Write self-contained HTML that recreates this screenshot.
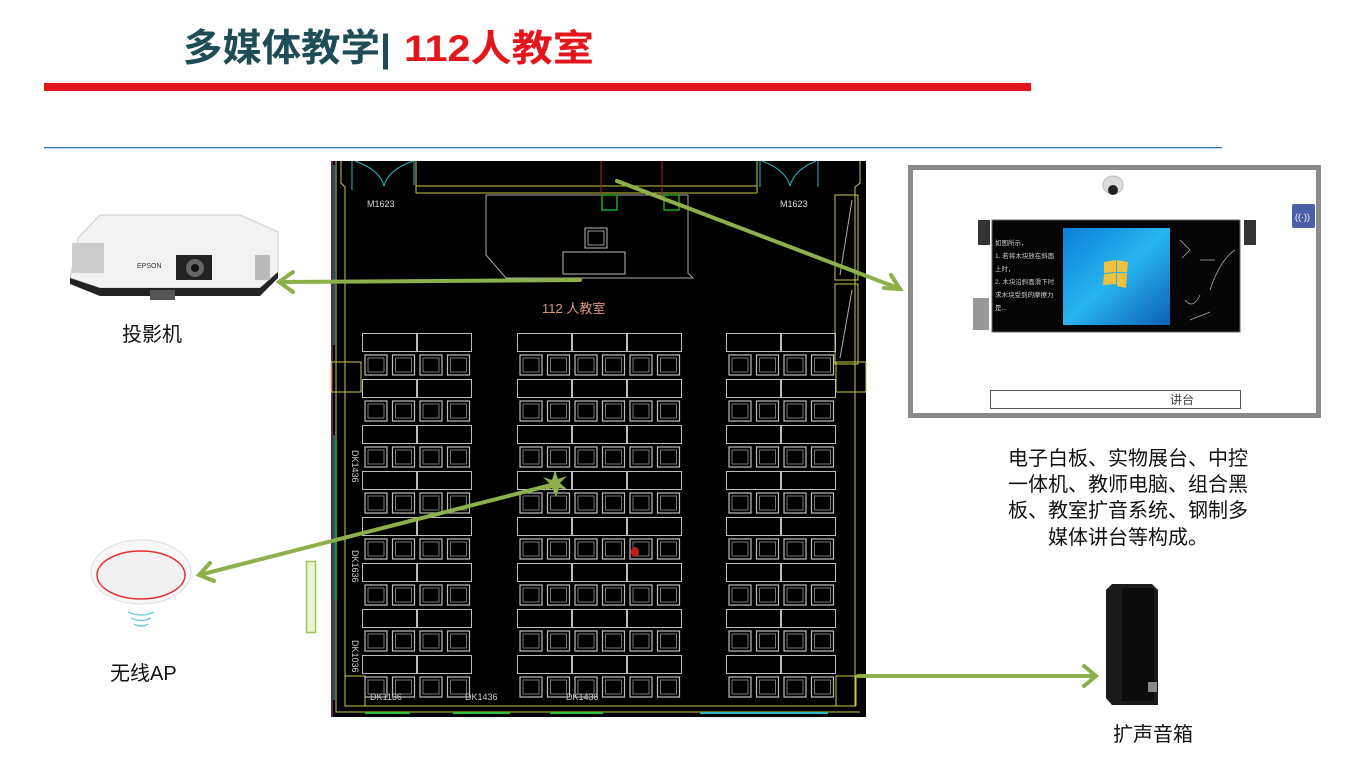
<!DOCTYPE html>
<html><head><meta charset="utf-8"><style>
html,body{margin:0;padding:0;background:#fff;width:1369px;height:784px;overflow:hidden}
svg text{font-family:"Liberation Sans","Noto Sans CJK SC",sans-serif}
</style></head><body>
<svg width="1369" height="784" viewBox="0 0 1369 784" xmlns="http://www.w3.org/2000/svg">
<defs>
<g id="tile">
  <rect x="0.5" y="0.5" width="54" height="18" fill="none" stroke="#bdbdbd" stroke-width="1"/>
  <rect x="3" y="22" width="22" height="20" fill="none" stroke="#bdbdbd" stroke-width="1.2"/>
  <rect x="6" y="25" width="16" height="14" fill="none" stroke="#777" stroke-width="1"/>
  <rect x="30.5" y="22" width="22" height="20" fill="none" stroke="#bdbdbd" stroke-width="1.2"/>
  <rect x="33.5" y="25" width="16" height="14" fill="none" stroke="#777" stroke-width="1"/>
</g>
<pattern id="sL" x="362" y="333" width="55" height="46" patternUnits="userSpaceOnUse"><use href="#tile"/></pattern>
<pattern id="sM" x="517" y="333" width="55" height="46" patternUnits="userSpaceOnUse"><use href="#tile"/></pattern>
<pattern id="sR" x="726" y="333" width="55" height="46" patternUnits="userSpaceOnUse"><use href="#tile"/></pattern>
<linearGradient id="scr" x1="0" y1="0" x2="1" y2="1"><stop offset="0" stop-color="#0a7fd6"/><stop offset="0.5" stop-color="#27b5f0"/><stop offset="1" stop-color="#0d5fb5"/></linearGradient>
</defs>

<!-- title -->
<text x="183" y="61" font-size="38" font-weight="bold" fill="#1e4d57" textLength="208" lengthAdjust="spacingAndGlyphs">多媒体教学|</text>
<text x="404" y="61" font-size="37" font-weight="bold" fill="#e3161c" textLength="190" lengthAdjust="spacingAndGlyphs">112人教室</text>
<rect x="44" y="83" width="987" height="8" fill="#e3161c"/>
<rect x="44" y="147" width="1178" height="1.3" fill="#2e75b6"/>

<!-- floor plan -->
<rect x="331" y="161" width="535" height="556" fill="#000"/>
<g fill="none" stroke-width="1">
  <polyline points="341,161 341,183 345,187 345,706 855,706 855,187 860,183 860,161" stroke="#c9c94a"/>
  <polyline points="336,161 336,712 860,712" stroke="#c9c94a"/>
  <line x1="332" y1="161" x2="332" y2="717" stroke="#c040c0"/>
  <line x1="334" y1="165" x2="334" y2="345" stroke="#2ab8c8"/>
  <line x1="334" y1="435" x2="334" y2="700" stroke="#2ab8c8"/>
  <line x1="336" y1="440" x2="336" y2="600" stroke="#2bc040" stroke-width="1.5"/>
  <line x1="416" y1="161" x2="416" y2="193" stroke="#c9c94a"/>
  <line x1="416" y1="186" x2="757" y2="186" stroke="#c9c94a"/>
  <line x1="416" y1="193" x2="757" y2="193" stroke="#c9c94a"/>
  <line x1="757" y1="161" x2="757" y2="193" stroke="#c9c94a"/>
  <line x1="414" y1="161" x2="414" y2="185" stroke="#2ab8c8"/>
  <line x1="352" y1="161" x2="352" y2="190" stroke="#2ab8c8"/>
  <line x1="760" y1="161" x2="760" y2="187" stroke="#2ab8c8"/>
  <line x1="818" y1="161" x2="818" y2="187" stroke="#2ab8c8"/>
  <path d="M355,161 Q380,170 384,186 Q388,170 413,161" stroke="#2ab8c8"/>
  <path d="M762,161 Q786,170 790,186 Q794,170 816,161" stroke="#2ab8c8"/>
  <polyline points="486,195 486,255 506,278 693,278 688,273 688,195" stroke="#aaa"/>
  <polyline points="486,195 688,195" stroke="#aaa"/>
  <rect x="585" y="228" width="22" height="20" stroke="#bbb"/>
  <rect x="588" y="231" width="16" height="14" stroke="#999"/>
  <rect x="563" y="252" width="62" height="22" stroke="#bbb"/>
  <line x1="601" y1="161" x2="601" y2="196" stroke="#b02020"/>
  <line x1="662" y1="161" x2="662" y2="196" stroke="#b02020"/>
  <rect x="602" y="195" width="15" height="15" stroke="#22c022" stroke-width="1.3"/>
  <rect x="664" y="195" width="15" height="15" stroke="#22c022" stroke-width="1.3"/>
  <rect x="835" y="195" width="23" height="85" stroke="#c9c94a"/>
  <rect x="835" y="284" width="23" height="80" stroke="#c9c94a"/>
  <line x1="840" y1="275" x2="852" y2="200" stroke="#aaa"/>
  <line x1="840" y1="358" x2="852" y2="290" stroke="#aaa"/>
  <rect x="331" y="362" width="30" height="30" stroke="#c9c94a"/>
  <rect x="836" y="362" width="30" height="30" stroke="#c9c94a"/>
  <rect x="836" y="676" width="20" height="30" stroke="#c9c94a"/>
  <rect x="345" y="676" width="20" height="30" stroke="#c9c94a"/>
</g>
<g stroke-width="2">
  <line x1="365" y1="713" x2="410" y2="713" stroke="#2bc040"/>
  <line x1="453" y1="713" x2="510" y2="713" stroke="#2bc040"/>
  <line x1="550" y1="713" x2="603" y2="713" stroke="#2bc040"/>
  <line x1="700" y1="713" x2="828" y2="713" stroke="#2ab8c8"/>
</g>
<text x="367" y="207" font-size="9" fill="#ddd">M1623</text>
<text x="780" y="207" font-size="9" fill="#ddd">M1623</text>
<text x="542" y="313" font-size="13" fill="#d89a80">112 人教室</text>

<rect x="362" y="333" width="110" height="368" fill="url(#sL)"/>
<rect x="517" y="333" width="165" height="368" fill="url(#sM)"/>
<rect x="726" y="333" width="110" height="368" fill="url(#sR)"/>
<ellipse cx="635" cy="552" rx="4" ry="5" fill="#c02020"/>

<text x="370" y="700" font-size="9" fill="#ccc">DK1136</text>
<text x="465" y="700" font-size="9" fill="#ccc">DK1436</text>
<text x="566" y="700" font-size="9" fill="#ccc">DK1436</text>
<text transform="translate(352,450) rotate(90)" font-size="9" fill="#ccc">DK1436</text>
<text transform="translate(352,550) rotate(90)" font-size="9" fill="#ccc">DK1636</text>
<text transform="translate(352,640) rotate(90)" font-size="9" fill="#ccc">DK1036</text>

<!-- green strip left -->
<rect x="306.5" y="561.5" width="9" height="71" fill="#eaf5d0" stroke="#9cc35a" stroke-width="1.5"/>

<!-- arrows -->
<g stroke="#8db04a" stroke-width="4" fill="none" stroke-linecap="round">
  <line x1="580" y1="280" x2="282" y2="282"/>
  <polyline points="293,272 279,282 293,292"/>
  <line x1="617" y1="181" x2="898" y2="288"/>
  <polyline points="884,288 900,289 891,275"/>
  <line x1="555" y1="484" x2="203" y2="574"/>
  <polyline points="210,563 199,575 214,581"/>
  <line x1="858" y1="676" x2="1094" y2="676"/>
  <polyline points="1084,666 1096,676 1084,686"/>
</g>
<polygon points="555,470 558,479 567,476 560,483 568,490 559,488 556,497 552,488 543,491 550,484 543,477 552,480" fill="#8db04a"/>

<!-- projector -->
<g>
  <path d="M78,238 L100,215 L240,215 L278,232 L278,272 L260,288 L100,288 L70,278 Z" fill="#f2f2f2" stroke="#ccc"/>
  <path d="M70,278 L100,288 L260,288 L278,272 L278,278 L260,296 L100,296 L70,284 Z" fill="#222"/>
  <rect x="72" y="243" width="32" height="30" fill="#ccc"/>
  <rect x="176" y="255" width="36" height="25" fill="#222"/>
  <circle cx="195" cy="268" r="9" fill="#666"/>
  <circle cx="195" cy="268" r="4" fill="#111"/>
  <text x="137" y="268" font-size="7" fill="#333">EPSON</text>
  <rect x="150" y="290" width="25" height="10" fill="#555"/>
  <rect x="255" y="255" width="15" height="25" fill="#bbb"/>
</g>
<text x="122" y="341" font-size="20" fill="#111">投影机</text>

<!-- AP -->
<g>
  <ellipse cx="141" cy="572" rx="50" ry="32" fill="#f7f7f7" stroke="#ddd"/>
  <ellipse cx="141" cy="575" rx="44" ry="24" fill="#f1f1f1" stroke="#e53030" stroke-width="1.5"/>
  <g fill="none" stroke="#6fd0d8" stroke-width="1.5">
    <path d="M128,612 Q141,618 154,612"/><path d="M131,618 Q141,623 151,618"/><path d="M134,624 Q141,628 148,624"/>
  </g>
</g>
<text x="110" y="680" font-size="20" fill="#111">无线AP</text>

<!-- speaker -->
<g>
  <path d="M1112,584 L1152,584 L1158,590 L1158,705 L1112,705 L1106,698 L1106,590 Z" fill="#1a1a1a"/>
  <rect x="1122" y="588" width="32" height="113" fill="#0c0c0c"/>
  <rect x="1148" y="682" width="9" height="10" fill="#888"/>
</g>
<text x="1113" y="741" font-size="20" fill="#111">扩声音箱</text>

<!-- right panel -->
<rect x="910.5" y="167.5" width="408" height="248" fill="#fff" stroke="#8a8a8a" stroke-width="5"/>
<g>
  <ellipse cx="1113" cy="185" rx="10" ry="9" fill="#ddd" stroke="#bbb"/>
  <circle cx="1113" cy="190" r="5" fill="#222"/>
  <rect x="1292" y="204" width="23" height="24" rx="2" fill="#4a5fa8"/>
  <text x="1295" y="220" font-size="9" fill="#fff">((·))</text>
  <rect x="978" y="220" width="12" height="25" fill="#333"/>
  <rect x="1244" y="220" width="12" height="25" fill="#333"/>
  <rect x="973" y="298" width="16" height="32" fill="#999"/>
  <rect x="992" y="220" width="248" height="112" fill="#050505" stroke="#666"/>
  <rect x="1063" y="228" width="107" height="97" fill="url(#scr)"/>
  <path d="M1104,262 L1116,260 L1116,272 L1104,273 Z M1117,260 L1128,262 L1127,272 L1117,272 Z M1104,274 L1116,273 L1116,284 L1103,285 Z M1117,273 L1127,273 L1126,288 L1117,286 Z" fill="#f0c040"/>
  <g fill="#ccc" font-size="6.5"><text x="995" y="245">如图所示，</text><text x="995" y="258">1. 若将木块放在斜面</text><text x="995" y="271">上时，</text><text x="995" y="284">2. 木块沿斜面滑下时</text><text x="995" y="297">求木块受到的摩擦力</text><text x="995" y="310">是...</text></g>
  <g stroke="#aaa" fill="none" stroke-width="0.8"><path d="M1180,240 l10,10 l-8,8"/><path d="M1210,290 q10,-30 25,-40"/><path d="M1185,300 q8,10 15,-5"/><path d="M1200,260 h15"/><path d="M1190,320 l20,-8"/></g>
  <rect x="990.5" y="390.5" width="250" height="18" fill="#fff" stroke="#555"/>
  <text x="1170" y="404" font-size="12" fill="#444">讲台</text>
</g>
<g font-size="20" fill="#111" text-anchor="middle">
  <text x="1128" y="465">电子白板、实物展台、中控</text>
  <text x="1128" y="491">一体机、教师电脑、组合黑</text>
  <text x="1128" y="517">板、教室扩音系统、钢制多</text>
  <text x="1128" y="544">媒体讲台等构成。</text>
</g>
</svg>
</body></html>
